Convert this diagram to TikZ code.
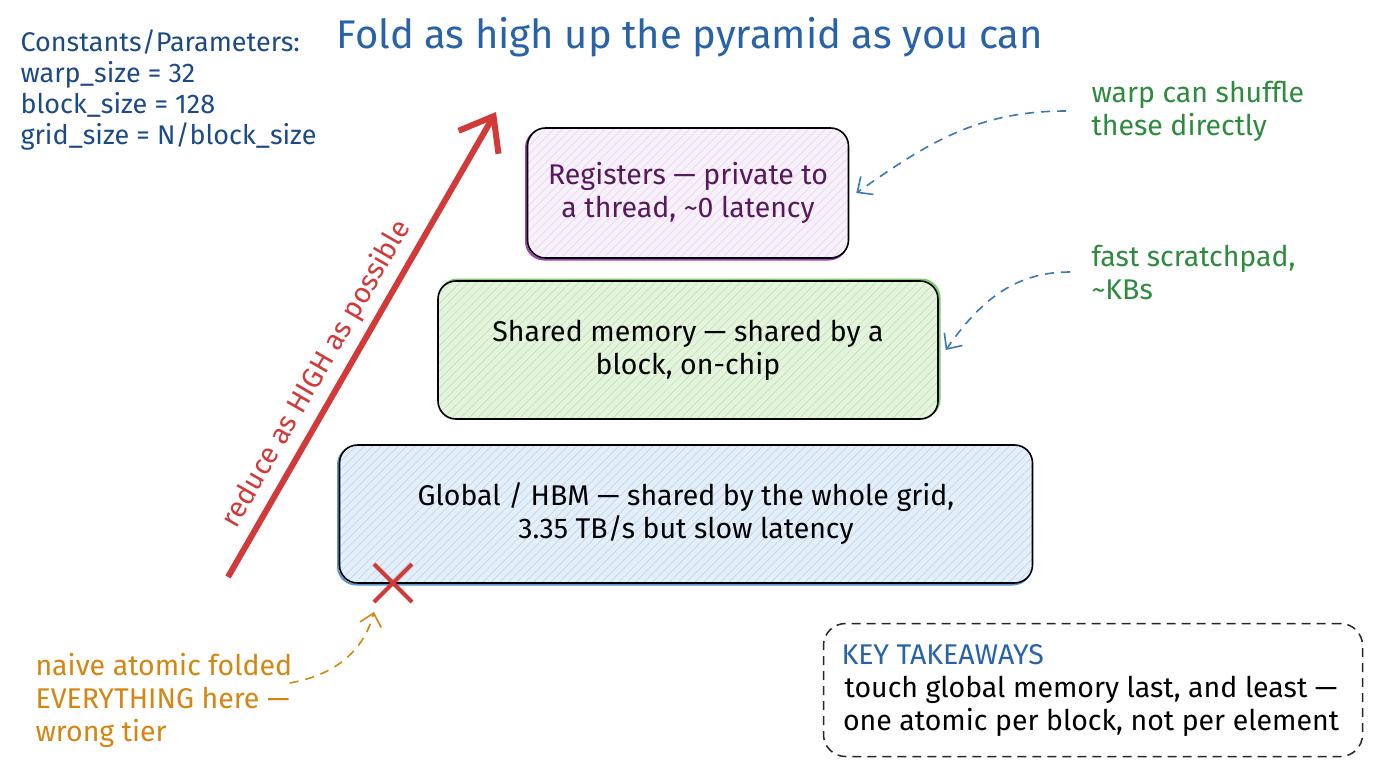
\documentclass[tikz,border=0pt]{standalone}
\usepackage{fontspec}
\setmainfont{Fira Sans}
\usetikzlibrary{shapes,arrows.meta,positioning,patterns.meta}

\definecolor{titleblue}{RGB}{40,98,168}
\definecolor{paramblue}{RGB}{28,74,135}
\definecolor{climbred}{RGB}{210,58,58}
\definecolor{notegreen}{RGB}{46,139,62}
\definecolor{warnorange}{RGB}{212,134,18}
\definecolor{linkblue}{RGB}{58,120,184}
\definecolor{regtext}{RGB}{88,24,92}
\definecolor{regfill}{RGB}{248,240,251}
\definecolor{reghatch}{RGB}{232,218,238}
\definecolor{regedge}{RGB}{150,70,170}
\definecolor{shfill}{RGB}{228,244,221}
\definecolor{shhatch}{RGB}{196,228,184}
\definecolor{shedge}{RGB}{130,200,110}
\definecolor{glfill}{RGB}{228,239,250}
\definecolor{glhatch}{RGB}{190,216,238}
\definecolor{gledge}{RGB}{90,150,210}

\begin{document}
\begin{tikzpicture}[
    x=1pt, y=-1pt,
    bigfont/.style={font=\fontsize{28.5}{33}\selectfont},
    tier/.style={rectangle, draw=black, line width=1.6pt, rounded corners=18pt, align=center, bigfont},
    regtier/.style={tier, text=regtext, minimum width=321pt, minimum height=130pt,
        preaction={draw=regedge, line width=2pt, transform canvas={shift={(-1.5pt,-1.5pt)}}},
        preaction={fill=regfill},
        preaction={pattern={Lines[angle=45, distance=6pt, line width=0.7pt]}, pattern color=reghatch}},
    shtier/.style={tier, minimum width=500pt, minimum height=138pt,
        preaction={draw=shedge, line width=2pt, transform canvas={shift={(1.5pt,1.5pt)}}},
        preaction={fill=shfill},
        preaction={pattern={Lines[angle=45, distance=6pt, line width=0.7pt]}, pattern color=shhatch}},
    gltier/.style={tier, minimum width=693pt, minimum height=138pt,
        preaction={draw=gledge, line width=2pt, transform canvas={shift={(-1.5pt,-1.5pt)}}},
        preaction={fill=glfill},
        preaction={pattern={Lines[angle=45, distance=6pt, line width=0.7pt]}, pattern color=glhatch}},
    note/.style={align=left, text=notegreen, bigfont},
    warn/.style={align=left, text=warnorange, bigfont},
    xmark/.style={cross out, draw=climbred, line width=4pt, minimum size=34pt},
    keybox/.style={rectangle, draw=black!85, line width=1.5pt, dash pattern=on 9pt off 6pt, rounded corners=22pt, minimum width=539pt, minimum height=133pt},
    climb/.style={draw=climbred, line width=6pt, -{Straight Barb[length=30pt, width=46pt]}},
    link/.style={draw=linkblue, line width=1.6pt, dash pattern=on 9pt off 7pt, -{Straight Barb[length=12pt, width=22pt]}},
    warnlink/.style={draw=warnorange, line width=1.6pt, dash pattern=on 9pt off 7pt, -{Straight Barb[length=12pt, width=22pt]}}
]
    \path [fill=white, use as bounding box] (0,0) rectangle (1376,768);

    % Nodes
    \node [anchor=north west, align=left, text=paramblue, font=\fontsize{27}{31}\selectfont] (params) at (17,26)
        {Constants/Parameters:\\warp\_size = 32\\block\_size = 128\\grid\_size = N/block\_size};
    \node [text=titleblue, font=\fontsize{40}{44}\selectfont] (title) at (690,37) {Fold as high up the pyramid as you can};

    \node [regtier] (reg) at (688,193) {Registers — private to\\a thread, \textasciitilde0 latency};
    \node [shtier] (shared) at (688,350) {Shared memory — shared by a\\block, on-chip};
    \node [gltier] (global) at (686,514) {Global / HBM — shared by the whole grid,\\3.35 TB/s but slow latency};
    \node [xmark] (naivex) at (393,583) {};

    \node [note, anchor=west] (warpnote) at (1088,111) {warp can shuffle\\these directly};
    \node [note, anchor=west] (padnote) at (1088,272) {fast scratchpad,\\\textasciitilde KBs};
    \node [warn, anchor=west] (naive) at (32,700) {naive atomic folded\\EVERYTHING here —\\wrong tier};

    \node [keybox] (keys) at (1093,690) {};
    \node [anchor=west, text=titleblue, bigfont] (keytitle) at (838,655) {KEY TAKEAWAYS};
    \node [align=center, bigfont] (keytext) at (1091,706) {touch global memory last, and least —\\one atomic per block, not per element};

    \coordinate (climb0) at (228,577);
    \coordinate (climb1) at (496,112);

    % Paths
    \path [climb] (climb0) -- node [pos=0.41, sloped, above=4pt, text=climbred, bigfont] (climbtext) {reduce as HIGH as possible} (climb1);
    \path [link] ([xshift=-22pt]warpnote.west) to [out=180, in=35] ([xshift=7pt]reg.east);
    \path [link] ([xshift=-18pt]padnote.west) to [out=180, in=55] ([xshift=7pt]shared.east);
    \path [warnlink] ([shift={(-6pt,17pt)}]naive.east) to [out=10, in=-105] ([yshift=-10pt]naivex.south west);

\end{tikzpicture}
\end{document}
